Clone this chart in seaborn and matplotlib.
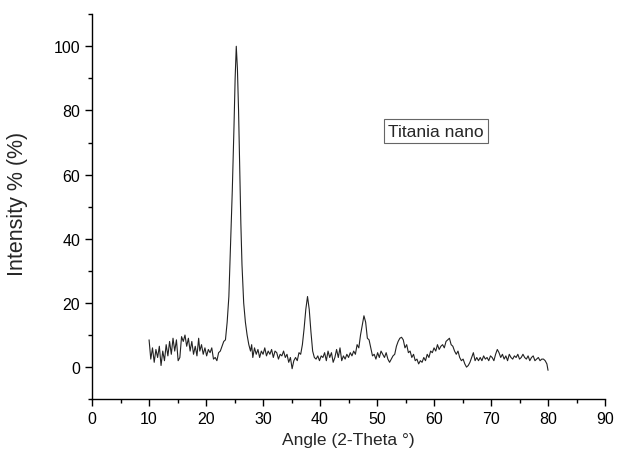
import matplotlib
matplotlib.use("Agg")
import matplotlib.pyplot as plt
import seaborn as sns
import pandas as pd
from matplotlib.ticker import MultipleLocator

angle = [
    10.0, 10.3, 10.6, 10.9, 11.2, 11.5, 11.8, 12.1, 12.4, 12.7, 13.0, 13.3, 13.6, 13.9,
    14.2, 14.5, 14.8, 15.1, 15.4, 15.7, 16.0, 16.3, 16.6, 16.9, 17.2, 17.5, 17.8, 18.1,
    18.4, 18.7, 18.9, 19.2, 19.5, 19.8, 20.1, 20.4, 20.7, 21.0, 21.3, 21.6, 21.9, 22.2,
    22.5, 22.8, 23.1, 23.4, 23.7, 24.0, 24.3, 24.6, 24.9, 25.1, 25.3, 25.5, 25.7, 25.9,
    26.1, 26.3, 26.6, 26.9, 27.2, 27.5, 27.8, 28.0, 28.2, 28.5, 28.8, 29.1, 29.4, 29.7,
    30.0, 30.3, 30.6, 30.9, 31.2, 31.5, 31.8, 32.1, 32.4, 32.7, 33.0, 33.3, 33.6, 33.9,
    34.2, 34.5, 34.8, 35.1, 35.4, 35.7, 36.0, 36.3, 36.6, 36.9, 37.2, 37.5, 37.8, 38.1,
    38.4, 38.7, 39.0, 39.3, 39.6, 39.9, 40.2, 40.5, 40.8, 41.1, 41.4, 41.7, 42.0, 42.3,
    42.6, 42.9, 43.2, 43.5, 43.8, 44.1, 44.4, 44.7, 45.0, 45.3, 45.6, 45.9, 46.2, 46.5,
    46.8, 47.1, 47.4, 47.7, 48.0, 48.3, 48.6, 48.9, 49.2, 49.5, 49.8, 50.1, 50.4, 50.7,
    51.0, 51.3, 51.6, 51.9, 52.2, 52.5, 52.8, 53.1, 53.4, 53.7, 54.0, 54.3, 54.6, 54.9,
    55.2, 55.5, 55.8, 56.1, 56.4, 56.7, 57.0, 57.3, 57.6, 57.9, 58.2, 58.5, 58.8, 59.1,
    59.4, 59.7, 60.0, 60.3, 60.6, 60.9, 61.2, 61.5, 61.8, 62.1, 62.4, 62.7, 63.0, 63.3,
    63.6, 63.9, 64.2, 64.5, 64.8, 65.1, 65.4, 65.7, 66.0, 66.3, 66.6, 66.9, 67.2, 67.5,
    67.8, 68.1, 68.4, 68.7, 69.0, 69.3, 69.6, 69.9, 70.2, 70.5, 70.8, 71.1, 71.4, 71.7,
    72.0, 72.3, 72.6, 72.9, 73.2, 73.5, 73.8, 74.1, 74.4, 74.7, 75.0, 75.3, 75.6, 75.9,
    76.2, 76.5, 76.8, 77.1, 77.4, 77.7, 78.0, 78.3, 78.6, 78.9, 79.2, 79.5, 79.8, 80.0,
]

intensity = [
    8.5, 2.5, 6.0, 1.5, 5.5, 3.0, 6.5, 0.5, 5.0, 2.0, 7.0, 3.5, 8.0, 4.0,
    9.0, 5.0, 8.5, 2.0, 3.0, 9.5, 8.0, 10.0, 6.5, 9.0, 5.0, 8.0, 4.0, 6.5,
    3.5, 9.0, 5.0, 7.0, 4.0, 6.0, 3.5, 5.5, 4.5, 6.0, 2.5, 3.0, 2.0, 4.5,
    5.0, 6.5, 8.0, 8.5, 14.0, 22.0, 38.0, 55.0, 75.0, 90.0, 100.0, 93.0, 80.0, 62.0,
    45.0, 32.0, 20.0, 14.0, 10.0, 7.0, 5.0, 7.0, 3.0, 6.0, 4.0, 5.5, 3.0, 5.0,
    4.0, 6.0, 3.5, 5.0, 4.0, 5.5, 3.0, 5.0, 4.5, 2.5, 4.0, 3.5, 5.0, 3.0,
    4.0, 1.5, 3.0, -0.5, 2.0, 3.0, 2.0, 4.5, 4.0, 7.0, 12.0, 18.0, 22.0, 18.0,
    11.0, 5.0, 3.0, 2.5, 3.5, 2.0, 3.5, 3.0, 4.5, 2.0, 5.0, 3.0, 4.5, 1.5,
    3.0, 5.5, 3.0, 6.0, 2.0, 3.5, 2.5, 4.0, 3.0, 4.5, 3.5, 5.0, 4.0, 7.0,
    6.0, 10.0, 13.0, 16.0, 14.0, 9.0, 8.5, 6.0, 3.5, 4.0, 2.5, 4.5, 3.0, 5.0,
    4.0, 3.0, 4.5, 2.5, 1.5, 2.5, 3.5, 4.0, 6.5, 8.0, 9.0, 9.3, 8.5, 6.0,
    7.0, 4.5, 5.0, 3.0, 4.0, 2.0, 2.5, 1.0, 2.0, 1.5, 3.0, 2.0, 4.0, 3.0,
    5.0, 4.5, 6.0, 5.0, 7.0, 5.5, 6.5, 7.0, 6.0, 8.0, 8.5, 9.0, 7.0, 6.5,
    5.0, 4.0, 5.0, 3.0, 2.0, 2.5, 1.0, 0.0, 0.5, 1.5, 3.0, 4.5, 2.0, 3.0,
    2.0, 3.0, 2.0, 3.5, 2.5, 3.0, 2.0, 3.5, 3.0, 2.0, 4.0, 5.5, 4.5, 3.0,
    4.0, 2.5, 3.5, 2.0, 4.0, 3.0, 2.5, 3.5, 3.0, 4.0, 2.5, 3.0, 4.0, 3.0,
    2.5, 3.5, 2.0, 3.0, 3.5, 2.0, 2.5, 3.0, 2.0, 2.5, 2.5, 2.0, 1.0, -1.0,
]

x_ticks = [0, 10, 20, 30, 40, 50, 60, 70, 80, 90]
y_ticks = [0, 20, 40, 60, 80, 100]
series_label = "Titania nano"

sns.set_style("ticks")
plt.rcParams['font.family'] = ['Liberation Sans', 'DejaVu Sans']

df = pd.DataFrame({"angle": angle, "intensity": intensity})

fig = plt.figure(figsize=(6.18, 4.60), dpi=100)
ax = fig.add_axes([0.149, 0.130, 0.830, 0.837])

sns.lineplot(data=df, x="angle", y="intensity", ax=ax, color="#222222",
             linewidth=0.8, sort=False)

ax.set_xlim(0, 90)
ax.set_ylim(-10, 110)
ax.set_xticks(x_ticks)
ax.set_yticks(y_ticks)
ax.xaxis.set_minor_locator(MultipleLocator(5))
ax.yaxis.set_minor_locator(MultipleLocator(10))
ax.tick_params(axis="both", which="major", direction="out", length=5, width=1,
               labelsize=11.5, color="black", labelcolor="black")
ax.tick_params(axis="both", which="minor", direction="out", length=3, width=1,
               color="black")
for s in ["top", "right"]:
    ax.spines[s].set_visible(False)
for s in ["left", "bottom"]:
    ax.spines[s].set_color("black")
    ax.spines[s].set_linewidth(1)

ax.set_xlabel("Angle (2-Theta °)", fontsize=12.5, labelpad=4)
ax.set_ylabel("Intensity % (%)", fontsize=15.5)
ax.yaxis.set_label_coords(-0.125, 0.51)

ax.text(60.3, 73.5, series_label, fontsize=12.5, ha="center", va="center",
        bbox=dict(boxstyle="square,pad=0.25", facecolor="white",
                  edgecolor="#666666", linewidth=0.8))

fig.savefig("out.png", dpi=100)
